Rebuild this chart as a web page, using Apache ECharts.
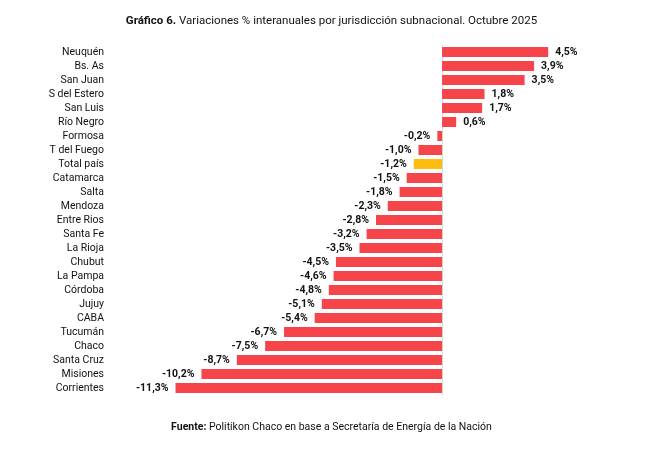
<!DOCTYPE html>
<html>
<head>
<meta charset="utf-8">
<script src="https://cdn.jsdelivr.net/npm/echarts@6/dist/echarts.min.js"></script>
<style>
  html, body { margin: 0; padding: 0; background: #fff; }
  #chart-container { width: 663px; height: 458px; }
</style>
</head>
<body>
<div id="chart-container"></div>
<script>
const categories = ['Neuquén', 'Bs. As', 'San Juan', 'S del Estero', 'San Luis', 'Río Negro',
    'Formosa', 'T del Fuego', 'Total país', 'Catamarca', 'Salta', 'Mendoza', 'Entre Rios',
    'Santa Fe', 'La Rioja', 'Chubut', 'La Pampa', 'Córdoba', 'Jujuy', 'CABA', 'Tucumán',
    'Chaco', 'Santa Cruz', 'Misiones', 'Corrientes'];
const values = [4.5, 3.9, 3.5, 1.8, 1.7, 0.6, -0.2, -1.0, -1.2, -1.5, -1.8, -2.3, -2.8,
    -3.2, -3.5, -4.5, -4.6, -4.8, -5.1, -5.4, -6.7, -7.5, -8.7, -10.2, -11.3];
const highlight = 'Total país';

const RED = '#f5454b';
const YELLOW = '#fdbd10';
const FONT = 'Roboto';

const chart = echarts.init(document.querySelector('#chart-container'), null, { renderer: 'canvas' });

// color + label side per bar
const barData = values.map(function (v, i) {
    return {
        value: v,
        itemStyle: { color: categories[i] === highlight ? YELLOW : RED },
        label: { position: v >= 0 ? 'right' : 'left' }
    };
});

chart.setOption({
    animation: false,
    title: [{
        text: '{b|Gráfico 6.} Variaciones % interanuales por jurisdicción subnacional. Octubre 2025',
        left: 'center',
        top: 10,
        textStyle: {
            fontFamily: FONT, fontSize: 11.5, fontWeight: 'normal', color: '#111',
            rich: { b: { fontFamily: FONT, fontSize: 11.5, fontWeight: 'bold', color: '#111' } }
        }
    }, {
        text: '{b|Fuente:} Politikon Chaco en base a Secretaría de Energía de la Nación',
        left: 'center',
        top: 417,
        textStyle: {
            fontFamily: FONT, fontSize: 10.5, fontWeight: 'normal', color: '#111',
            rich: { b: { fontFamily: FONT, fontSize: 10.5, fontWeight: 'bold', color: '#111' } }
        }
    }],
    grid: { left: 159, right: 103, top: 45, height: 350, containLabel: false },
    xAxis: {
        type: 'value',
        min: -12,
        max: 5,
        show: false
    },
    yAxis: {
        type: 'category',
        inverse: true,
        data: categories,
        axisLine: { show: false, onZero: false },
        axisTick: { show: false },
        axisLabel: { interval: 0, margin: 55, fontFamily: FONT, fontSize: 10.5, color: '#111' }
    },
    series: [{
        type: 'bar',
        data: barData,
        barWidth: 10,
        label: {
            show: true,
            distance: 7,
            fontFamily: FONT,
            fontSize: 10.5,
            fontWeight: 'bold',
            color: '#111',
            formatter: function (p) {
                return p.value.toFixed(1).replace('.', ',') + '%';
            }
        },
        markLine: {
            silent: true,
            symbol: 'none',
            z: 1,
            label: { show: false },
            lineStyle: { color: '#d9d9d9', width: 1, type: 'solid' },
            data: [{ xAxis: 0 }]
        }
    }]
});
</script>
</body>
</html>
